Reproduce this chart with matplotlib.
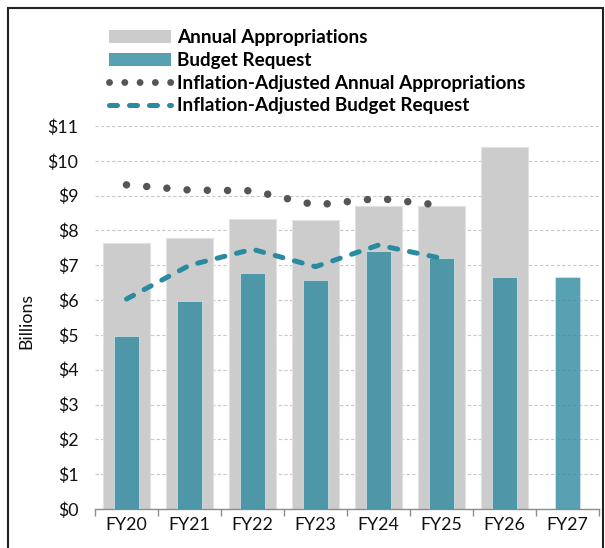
import numpy as np
import matplotlib
matplotlib.use('Agg')
import matplotlib.pyplot as plt
from matplotlib.patches import Patch, Rectangle
from matplotlib.lines import Line2D

plt.rcParams['font.family'] = ['Lato', 'DejaVu Sans']

years = ["FY20", "FY21", "FY22", "FY23", "FY24", "FY25", "FY26", "FY27"]
appropriations = [7.63, 7.77, 8.32, 8.30, 8.70, 8.70, 10.40, np.nan]
budget_request = [4.97, 5.97, 6.79, 6.59, 7.40, 7.21, 6.65, 6.65]
adj_appropriations = [9.31, 9.16, 9.14, 8.73, 8.92, 8.72]
adj_request = [6.03, 7.00, 7.46, 6.96, 7.58, 7.20]

gray = '#cccccc'
teal = '#2e8aa0'
dark_teal = '#2a8a9f'
dot_gray = '#555555'

W, H = 605, 548
fig = plt.figure(figsize=(W / 100, H / 100), dpi=100)
ax = fig.add_axes([95 / W, 1 - 509 / H, (599 - 95) / W, (509 - 126) / H])

x = np.arange(len(years))
ax.bar(x, appropriations, width=0.76, color=gray, edgecolor='#e2e2e2', linewidth=0.8, zorder=2)
ax.bar(x, budget_request, width=0.385, color=teal, alpha=0.8, edgecolor='#d9e8ec', linewidth=0.6, zorder=3)

xl = x[:len(adj_appropriations)]
dot_style = (0, (0.001, 2.7))
dash_style = (0, (1.6, 2.4))
ax.plot(xl, adj_appropriations, color=dot_gray, lw=5.4, linestyle=dot_style,
        dash_capstyle='round', zorder=4)
ax.plot(xl, adj_request, color=dark_teal, lw=3.6, linestyle=dash_style,
        dash_capstyle='round', solid_joinstyle='round', zorder=4)

ax.set_xlim(-0.5, len(years) - 0.5)
ax.set_ylim(0, 11)
ax.set_yticks(range(0, 12))
ax.set_yticklabels([f'${v}' for v in range(0, 12)])
ax.yaxis.grid(True, linestyle=(0, (3, 2)), color='#c8c8c8', linewidth=0.8, zorder=0)
ax.set_axisbelow(True)
for s in ['top', 'right', 'left']:
    ax.spines[s].set_visible(False)
ax.spines['bottom'].set_color('#8c8c8c')
ax.spines['bottom'].set_linewidth(1.0)
ax.tick_params(axis='y', length=0, pad=12, labelsize=12.8, labelcolor='#111111')
ax.set_xticks(x)
ax.set_xticklabels(years)
ax.tick_params(axis='x', which='major', length=0, pad=6, labelsize=12.8, labelcolor='#111111')
ax.set_xticks(np.arange(-0.5, len(years)), minor=True)
ax.tick_params(axis='x', which='minor', length=5, color='#8c8c8c', width=1.0)
ax.set_ylabel('Billions', fontsize=12.8, color='#111111')
ax.yaxis.set_label_coords(-(95 - 34) / (599 - 95), 0.49)

handles = [
    Patch(facecolor=gray, edgecolor='none'),
    Patch(facecolor=teal, alpha=0.8, edgecolor='none'),
    Line2D([], [], color=dot_gray, lw=5.0, linestyle=(0, (0.001, 2.2)), dash_capstyle='round'),
    Line2D([], [], color=dark_teal, lw=3.6, linestyle=dash_style, dash_capstyle='round'),
]
labels = ['Annual Appropriations', 'Budget Request',
          'Inflation-Adjusted Annual Appropriations', 'Inflation-Adjusted Budget Request']
fig.legend(handles, labels, loc='upper left', bbox_to_anchor=(100 / W, 1 - 20 / H),
           frameon=False, borderpad=0, handlelength=3.25, handletextpad=0.32,
           labelspacing=0.3, prop={'weight': 'bold', 'size': 13.6})

# outer frame
fig.patches.append(Rectangle((8 / W, -0.05), (603 - 8) / W, 1.05 - 8 / H,
                             transform=fig.transFigure, fill=False,
                             edgecolor='#222222', linewidth=1.5))

fig.savefig('out.png', dpi=100)
